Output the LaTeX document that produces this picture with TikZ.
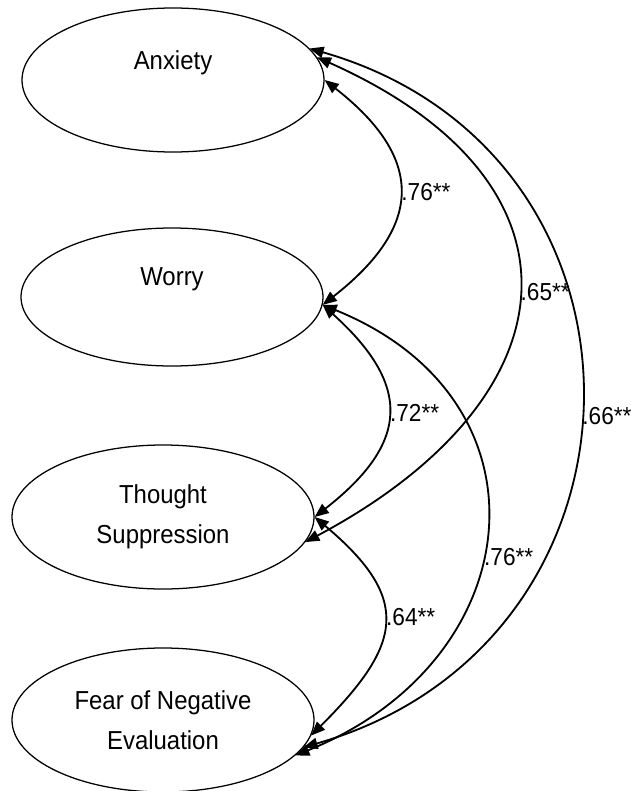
\documentclass[tikz,border=0pt]{standalone}
\usepackage{fontspec}
\setmainfont{Liberation Sans}[FakeStretch=0.92]
\usetikzlibrary{arrows.meta,shapes.geometric}

\begin{document}
\begin{tikzpicture}
    
    \tikzset{latent/.style = {shape=ellipse,draw,line width=0.9pt,minimum width=7.55cm,minimum height=3.6cm,align=center,font=\fontsize{18.5}{28.5}\selectfont}}
    \tikzset{cov/.style = {<->,> = {Triangle[length=10pt,width=8pt]},line width=1.3pt}}
    \tikzset{coef/.style = {right,inner sep=1pt,font=\fontsize{17.5}{21}\selectfont}}
    \useasboundingbox (0,0) rectangle (15.775,-19.775);
    \node[latent] (A) at (4.325,-2.0) {Anxiety\\\mbox{}};
    \node[latent,minimum height=3.45cm] (W) at (4.3,-7.425) {Worry\\\mbox{}};
    \node[latent] (T) at (4.075,-12.925) {Thought\\Suppression};
    \node[latent] (F) at (4.075,-18.0) {Fear of Negative\\Evaluation};
    %covariances
    \draw[cov] (A.0) to[out=-38,in=38,looseness=1.45] node[coef] {.76**} (W.-3);
    \draw[cov] (W.-3) to[out=-42,in=38,looseness=1.45] node[coef] {.72**} (T.0);
    \draw[cov] (T.0) to[out=-40,in=45,looseness=1.5] node[coef,pos=0.47] {.64**} (F.-6);
    \draw[cov] (A.9) to[out=-24,in=28,looseness=1.62] node[coef] {.65**} (T.-10);
    \draw[cov] (A.13) to[out=-16,in=16,looseness=1.39] node[coef,pos=0.52] {.66**} (F.-11);
    \draw[cov] (W.-3) to[out=-22,in=22,looseness=1.44] node[coef,pos=0.55] {.76**} (F.-15);
\end{tikzpicture}
\end{document}
